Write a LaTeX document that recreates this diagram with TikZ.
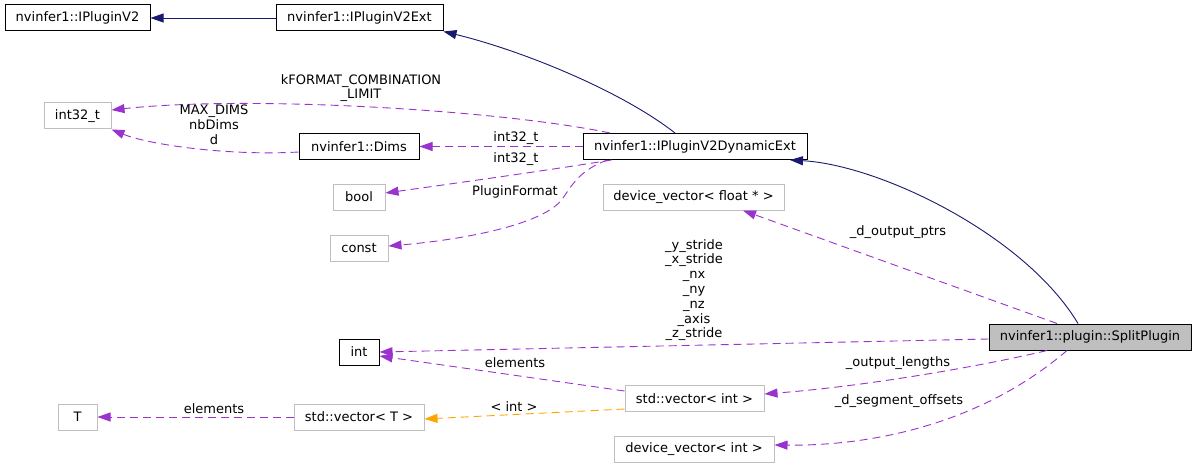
\documentclass[tikz,border=0pt]{standalone}
\usepackage{fontspec}
\setmainfont{DejaVu Sans}
\usetikzlibrary{arrows.meta}
\definecolor{navy}{HTML}{191970}
\definecolor{orch}{HTML}{9A32CD}
\definecolor{orng}{HTML}{FFA500}
\definecolor{gry}{HTML}{BFBFBF}
\begin{document}
\begin{tikzpicture}[x=1pt,y=-1pt,
  font=\fontsize{13}{14.8}\selectfont,
  box/.style={draw=black, line width=1pt, minimum height=26pt, inner sep=0pt, anchor=center},
  gbox/.style={box, draw=gry},
  tip/.style={-{Triangle[length=13pt,width=9pt]}},
  inh/.style={draw=navy, line width=0.9pt, tip},
  use/.style={draw=orch, line width=0.9pt, dash pattern=on 8pt off 5pt, tip},
  tmpl/.style={draw=orng, line width=0.9pt, dash pattern=on 8pt off 5pt, tip},
  lbl/.style={align=center, inner sep=0pt}]
\fill[white] (0,0) rectangle (1196,468);
\useasboundingbox (0,0) rectangle (1196,468);

\node[box, minimum width=145pt] (v2) at (77.5,18) {nvinfer1::IPluginV2};
\node[box, minimum width=167pt] (v2ext) at (359.5,18) {nvinfer1::IPluginV2Ext};
\node[gbox, minimum width=67pt] (i32) at (77.5,116) {int32\_t};
\node[box, minimum width=120pt] (dims) at (359,146.5) {nvinfer1::Dims};
\node[box, minimum width=224pt] (dyn) at (695,146.5) {nvinfer1::IPluginV2DynamicExt};
\node[gbox, minimum width=52pt] (bool) at (359,197) {bool};
\node[gbox, minimum width=58pt] (const) at (359,248) {const};
\node[gbox, minimum width=181pt] (dvf) at (693.5,197) {device\_vector< float * >};
\node[box, minimum width=40pt] (int) at (359,352) {int};
\node[box, fill=gry, minimum width=202pt] (split) at (1090,337) {nvinfer1::plugin::SplitPlugin};
\node[gbox, minimum width=139pt] (vint) at (694.5,398.5) {std::vector< int >};
\node[gbox, minimum width=160pt] (dvi) at (694,449.5) {device\_vector< int >};
\node[gbox, minimum width=130pt] (vT) at (359,417) {std::vector< T >};
\node[gbox, minimum width=39pt] (T) at (77.5,417) {T};

% inheritance
\draw[inh] (v2ext.west) -- (v2.east);
\draw[inh] ([xshift=-20pt]dyn.north) .. controls (620,90) and (520,50) .. (v2ext.south east);
\draw[inh] ([xshift=-12pt]split.north) .. controls (1025,235) and (880,165) .. ([xshift=95pt]dyn.south);

% usage
\draw[use] ([xshift=-85pt]dyn.north) .. controls (500,110) and (250,95) .. ([yshift=6pt]i32.east);
\draw[use] ([yshift=-5.5pt]dims.west) .. controls (230,156) and (150,145) .. (i32.south east);
\draw[use] (dyn.west) -- (dims.east);
\draw[use] ([xshift=-83.5pt]dyn.south) .. controls (550,170) and (450,184) .. ([yshift=4pt]bool.east);
\draw[use] ([xshift=-87.5pt]dyn.south) .. controls (580,170) and (572,185) .. (563,198) .. controls (545,225) and (460,240) .. ([yshift=2pt]const.east);
\draw[use] ([xshift=-33pt]split.north) -- ([xshift=49.5pt]dvf.south);
\draw[use] ([yshift=-2pt]split.west) -- (int.east);
\draw[use] ([xshift=-43pt]split.south) .. controls (1000,362) and (880,385) .. ([yshift=4.5pt]vint.east);
\draw[use] ([yshift=7.5pt]vint.west) -- ([yshift=-4pt]int.east);
\draw[use] ([xshift=-23pt]split.south) .. controls (980,425) and (870,446) .. ([yshift=4.5pt]dvi.east);
\draw[tmpl] ([yshift=-10.5pt]vint.west) -- ([yshift=-2pt]vT.east);
\draw[use] (vT.west) -- (T.east);

% labels
\node[lbl] (lk) at (361,88) {kFORMAT\_COMBINATION\\\_LIMIT};
\node[lbl] (lm) at (214,125) {MAX\_DIMS\\nbDims\\d};
\node[lbl] (l1) at (516,138) {int32\_t};
\node[lbl] (l2) at (516,159) {int32\_t};
\node[lbl] (lp) at (515,192) {PluginFormat};
\node[lbl] (ldo) at (898,232) {\_d\_output\_ptrs};
\node[lbl] (lints) at (694,290) {\_y\_stride\\\_x\_stride\\\_nx\\\_ny\\\_nz\\\_axis\\\_z\_stride};
\node[lbl] (lol) at (898,363) {\_output\_lengths};
\node[lbl] (lel) at (515,363) {elements};
\node[lbl] (lds) at (899,401) {\_d\_segment\_offsets};
\node[lbl] (lti) at (514,407) {< int >};
\node[lbl] (lel2) at (214,409) {elements};
\end{tikzpicture}
\end{document}
